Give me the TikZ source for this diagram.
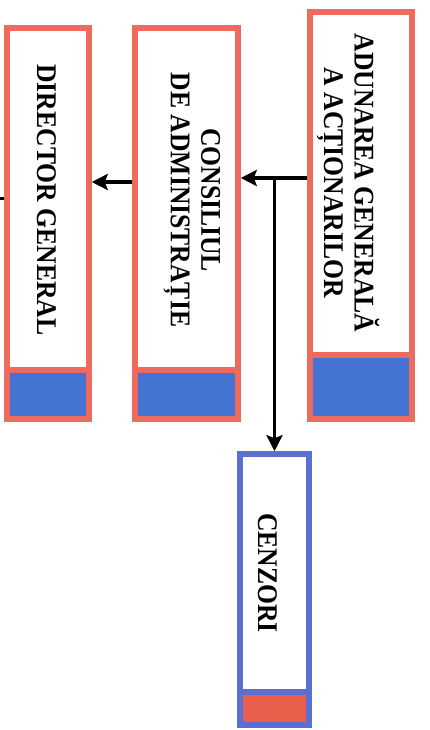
\documentclass[tikz,border=0pt]{standalone}
\usepackage{fontspec}
\setmainfont{Liberation Serif}
\newfontfamily\lblfont{Liberation Serif}[FakeStretch=0.9]
\usetikzlibrary{arrows.meta}
\definecolor{redline}{HTML}{EC6B5E}
\definecolor{bluefill}{HTML}{4473D4}
\definecolor{blueline}{HTML}{5B6FD0}
\definecolor{redfill}{HTML}{EA5E4C}
\tikzset{
  box/.style={draw=redline, line width=5.5pt, fill=white, inner sep=0pt},
  cbox/.style={draw=blueline, line width=5.5pt, fill=white, inner sep=0pt},
  lbl/.style={rotate=-90, align=center, inner sep=0pt, font=\lblfont\bfseries\fontsize{28.5}{30.5}\selectfont},
  conn/.style={line width=3.5pt, draw=black},
  arr/.style={conn, -{Stealth[length=16pt, width=16pt, inset=3pt]}},
}
\begin{document}
\begin{tikzpicture}[x=1pt,y=-1pt]
\useasboundingbox (0,0) rectangle (430,730);
% Director general
\node[box, minimum width=82pt, minimum height=342pt] (dg) at (48,199) {};
\node[box, fill=bluefill, minimum width=82pt, minimum height=49pt] (dgb) at (48,394.5) {};
% Consiliul
\node[box, minimum width=103pt, minimum height=342pt] (cons) at (186.5,199) {};
\node[box, fill=bluefill, minimum width=103pt, minimum height=49pt] (consb) at (186.5,394.5) {};
% Adunarea
\node[box, minimum width=102pt, minimum height=343pt] (ag) at (361,183.5) {};
\node[box, fill=bluefill, minimum width=102pt, minimum height=64pt] (agb) at (361,387) {};
% Cenzori
\node[cbox, minimum width=69pt, minimum height=238pt] (cz) at (274.5,573) {};
\node[cbox, fill=redfill, minimum width=69pt, minimum height=33pt] (czb) at (274.5,708.5) {};
% labels
\node[lbl] (dgt) at (46.5,200) {DIRECTOR GENERAL};
\node[lbl] (const) at (192,200) {CONSILIUL\\DE ADMINISTRAȚIE};
\node[lbl] (agt) at (348,183) {ADUNAREA GENERALĂ\\A ACȚIONARILOR};
\node[lbl] (czt) at (267.5,573) {CENZORI};
% connectors
\coordinate (j) at (274.5,178);
\coordinate (k) at (0,182);
\coordinate (s) at (0,198.5);
\draw[arr] (ag.west |- j) -- (cons.east |- j);
\draw[arr] (j) -- (cz.north);
\draw[arr] (cons.west |- k) -- (dg.east |- k);
\draw[conn] (dg.west |- s) -- (s);
\end{tikzpicture}
\end{document}
